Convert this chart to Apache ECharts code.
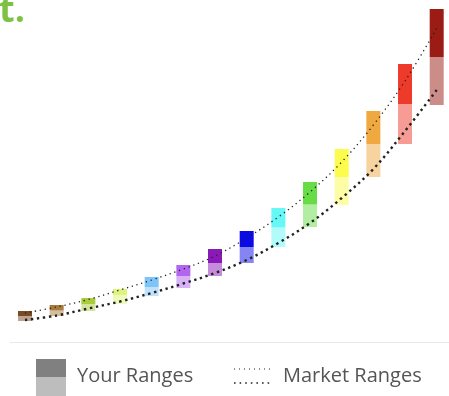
<!DOCTYPE html>
<html><head><meta charset="utf-8">
<script src="https://cdn.jsdelivr.net/npm/echarts@6/dist/echarts.min.js"></script>
<style>html,body{margin:0;padding:0;background:#fff}#c{width:449px;height:396px}</style>
</head><body><div id="c"></div>
<script>
// Pay grades
const categories = ['G1','G2','G3','G4','G5','G6','G7','G8','G9','G10','G11','G12','G13','G14'];
// Your ranges (low, midpoint, high)
const rangeLow  = [21, 26, 31, 38, 46, 54, 66, 79, 95, 115, 137, 165, 198, 237];
const rangeMid  = [26, 31.5, 38, 47, 55, 66, 79, 95, 114.5, 137.5, 165, 198, 238, 285];
const rangeHigh = [31, 37, 44, 53, 65, 77, 93, 111, 134, 160, 193, 231, 278, 333];
// Market ranges
const marketHigh = [29, 35, 42.5, 52, 62, 73, 86, 104, 125, 150, 180, 217, 261, 313.5];
const marketLow  = [22, 26.5, 33.5, 40.5, 49, 58.5, 69, 82, 99, 119, 144, 173, 211, 252];
// Grade colours
const gradeColors = ['#7a4a22','#a87b3c','#a8cc3c','#dcf57a','#7fc4f7','#b266f0','#8a1ab8',
                     '#0a0ae6','#66f7f7','#66dd44','#fcfc4c','#f0a840','#ee3a2a','#9a1c14'];

const chart = echarts.init(document.getElementById('c'));
const lightPart = rangeMid.map((m, i) => ({ value: m - rangeLow[i], itemStyle: { color: gradeColors[i], opacity: 0.5 } }));
const darkPart  = rangeHigh.map((h, i) => ({ value: h - rangeMid[i], itemStyle: { color: gradeColors[i] } }));

chart.setOption({
  animation: false,
  grid: { left: 25, right: 12.3, top: 0, bottom: 54 },
  xAxis: { type: 'category', data: categories, boundaryGap: false, show: false },
  yAxis: { type: 'value', min: 0, max: 342, show: false },
  series: [
    { type: 'bar', stack: 'r', barWidth: 14, data: rangeLow, itemStyle: { color: 'transparent' }, silent: true },
    { type: 'bar', stack: 'r', barWidth: 14, data: lightPart },
    { type: 'bar', stack: 'r', barWidth: 14, data: darkPart },
    { type: 'line', data: marketHigh, smooth: 0.35, symbol: 'none', z: 5,
      lineStyle: { color: '#222', width: 1.3, type: [1.3, 3.7] } },
    { type: 'line', data: marketLow, smooth: 0.35, symbol: 'none', z: 5,
      lineStyle: { color: '#222', width: 2.4, type: [2.4, 3.6] } }
  ],
  graphic: [
    { type: 'text', left: -1, top: -6, style: { text: 't.', fill: '#7dc243', font: 'bold 36px "Open Sans"' } },
    { type: 'line', shape: { x1: 10, y1: 342.5, x2: 449, y2: 342.5 }, style: { stroke: '#e8e8e8', lineWidth: 1 } },
    { type: 'rect', shape: { x: 36, y: 359, width: 30, height: 18 }, style: { fill: '#808080' } },
    { type: 'rect', shape: { x: 36, y: 377, width: 30, height: 19 }, style: { fill: '#bdbdbd' } },
    { type: 'text', x: 77, y: 376, style: { text: 'Your Ranges', fill: '#555', font: '20px "Open Sans"', verticalAlign: 'middle' } },
    { type: 'line', shape: { x1: 234, y1: 369, x2: 270, y2: 369 }, style: { stroke: '#222', lineWidth: 1, lineDash: [1, 4] } },
    { type: 'line', shape: { x1: 234, y1: 383, x2: 270, y2: 383 }, style: { stroke: '#222', lineWidth: 1.6, lineDash: [1.6, 4] } },
    { type: 'text', x: 283, y: 376, style: { text: 'Market Ranges', fill: '#555', font: '20px "Open Sans"', verticalAlign: 'middle' } }
  ]
});
</script></body></html>
